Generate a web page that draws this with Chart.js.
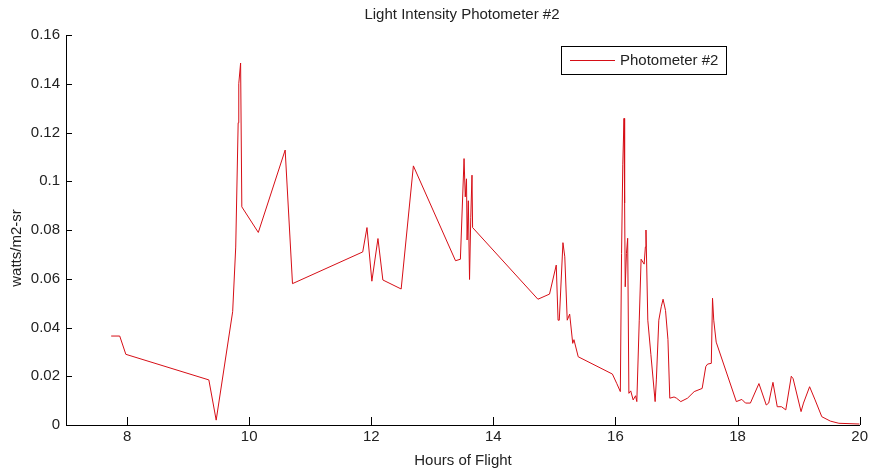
<!DOCTYPE html>
<html>
<head>
<meta charset="utf-8">
<script src="https://cdn.jsdelivr.net/npm/chart.js@4/dist/chart.umd.min.js"></script>
<style>
  body { margin: 0; background: #fff; }
  #wrap { width: 871px; height: 472px; }
</style>
</head>
<body>
<div id="wrap"><canvas id="lightCanvas"></canvas></div>
<script>
// données
const hours = [
  7.74, 7.88, 7.98, 9.34, 9.46, 9.73, 9.78, 9.82, 9.83, 9.86, 9.88, 10.15, 10.59, 10.71,
  11.86, 11.93, 12.01, 12.11, 12.19, 12.49, 12.69, 13.38, 13.46, 13.52, 13.54, 13.56, 13.57,
  13.59, 13.61, 13.63, 13.65, 13.66, 14.73, 14.92, 15.03, 15.06, 15.08, 15.14, 15.17, 15.21,
  15.25, 15.30, 15.32, 15.39, 15.95, 16.02, 16.08, 16.10, 16.12, 16.14, 16.15, 16.16, 16.18,
  16.20, 16.22, 16.25, 16.29, 16.33, 16.35, 16.39, 16.42, 16.47, 16.49, 16.50, 16.53, 16.58,
  16.65, 16.67, 16.71, 16.75, 16.78, 16.82, 16.86, 16.89, 16.96, 17.00, 17.07, 17.18, 17.29,
  17.42, 17.48, 17.51, 17.57, 17.59, 17.61, 17.65, 17.98, 18.07, 18.13, 18.21, 18.35, 18.47,
  18.51, 18.58, 18.65, 18.72, 18.79, 18.88, 18.91, 19.04, 19.08, 19.18, 19.27, 19.38, 19.52,
  19.66, 20.0
];
const intensity = [
  0.0365, 0.0365, 0.029, 0.0185, 0.002, 0.0465, 0.073, 0.124, 0.140, 0.1485, 0.0895, 0.079, 0.1128, 0.058,
  0.071, 0.081, 0.059, 0.0765, 0.0595, 0.0558, 0.1063, 0.0674, 0.068, 0.1093, 0.0936, 0.101, 0.0759,
  0.092, 0.0597, 0.085, 0.1025, 0.081, 0.0516, 0.0537, 0.0656, 0.043, 0.043, 0.0748, 0.069, 0.043,
  0.0455, 0.0335, 0.035, 0.028, 0.0209, 0.0171, 0.0137, 0.0704, 0.107, 0.1258, 0.091, 0.0567, 0.0704,
  0.0766, 0.013, 0.014, 0.0103, 0.012, 0.0096, 0.043, 0.068, 0.066, 0.073, 0.080, 0.043, 0.029,
  0.0096, 0.0185, 0.043, 0.0485, 0.0516, 0.047, 0.035, 0.011, 0.0115, 0.011, 0.0096, 0.011, 0.0137,
  0.015, 0.024, 0.025, 0.0253, 0.052, 0.043, 0.034, 0.0096, 0.0105, 0.009, 0.009, 0.017, 0.0082,
  0.009, 0.0175, 0.0075, 0.0075, 0.0062, 0.020, 0.019, 0.0055, 0.009, 0.0157, 0.0103, 0.0034, 0.0016,
  0.0007, 0.0004
];
const xTicks = [8, 10, 12, 14, 16, 18, 20];
const yTicks = [0, 0.02, 0.04, 0.06, 0.08, 0.1, 0.12, 0.14, 0.16];

const FONT = '"Liberation Sans", Arial, sans-serif';
const RED = "rgb(214, 14, 22)";

// titres, légende et graduations intérieures (style MATLAB)
const matlabDecor = {
    id: "matlabDecor",
    afterDraw(chart) {
        const ctx = chart.ctx;
        const area = chart.chartArea;
        const xs = chart.scales.x, ys = chart.scales.y;
        ctx.save();
        ctx.strokeStyle = "#000";
        ctx.lineWidth = 1;
        ctx.beginPath();
        xTicks.forEach(v => {
            const px = Math.round(xs.getPixelForValue(v)) + 0.5;
            ctx.moveTo(px, area.bottom);
            ctx.lineTo(px, area.bottom - 8);
        });
        yTicks.forEach(v => {
            const py = Math.round(ys.getPixelForValue(v)) + 0.5;
            ctx.moveTo(area.left, py);
            ctx.lineTo(area.left + 6, py);
        });
        ctx.stroke();

        ctx.fillStyle = "#222";
        ctx.textAlign = "center";
        ctx.textBaseline = "middle";
        ctx.font = "15px " + FONT;
        ctx.fillText("Light Intensity Photometer #2", 462, 15);
        ctx.fillText("Hours of Flight", 463, 461);
        ctx.save();
        ctx.translate(17, 248);
        ctx.rotate(-Math.PI / 2);
        ctx.fillText("watts/m2-sr", 0, 0);
        ctx.restore();

        // légende encadrée
        ctx.fillStyle = "#fff";
        ctx.fillRect(561, 46, 165, 28);
        ctx.strokeStyle = "#000";
        ctx.strokeRect(561.5, 46.5, 165, 28);
        ctx.strokeStyle = RED;
        ctx.beginPath();
        ctx.moveTo(570, 60.5);
        ctx.lineTo(615, 60.5);
        ctx.stroke();
        ctx.fillStyle = "#222";
        ctx.textAlign = "left";
        ctx.fillText(chart.data.datasets[0].label, 620, 61);
        ctx.restore();
    }
};

const lightCanvas = document.getElementById("lightCanvas");

const lightChart = new Chart(lightCanvas, {
    type: "line",
    data: {
        datasets: [{
            label: "Photometer #2",
            data: hours.map((h, i) => ({ x: h, y: intensity[i] })),
            borderColor: RED,
            borderWidth: 1,
            pointRadius: 0,
            tension: 0,
            fill: false
        }]
    },
    options: {
        responsive: true,
        maintainAspectRatio: false,
        animation: false,
        layout: { padding: { top: 35, right: 10, left: 0, bottom: 0 } },
        plugins: {
            legend: { display: false },
            title: { display: false },
            tooltip: { enabled: false }
        },
        scales: {
            x: {
                type: "linear",
                position: "bottom",
                min: 7,
                max: 20,
                afterBuildTicks: s => { s.ticks = xTicks.map(v => ({ value: v })); },
                afterFit: s => { s.height = 47; },
                grid: { display: false, drawTicks: false },
                border: { color: "#000", width: 1 },
                ticks: {
                    padding: 3,
                    maxRotation: 0,
                    color: "#222",
                    font: { family: FONT, size: 15 }
                }
            },
            y: {
                min: 0,
                max: 0.16,
                afterBuildTicks: s => { s.ticks = yTicks.map(v => ({ value: v })); },
                afterFit: s => { s.width = 66; },
                grid: { display: false, drawTicks: false },
                border: { color: "#000", width: 1 },
                ticks: {
                    padding: 6,
                    color: "#222",
                    font: { family: FONT, size: 15 },
                    callback: v => String(+v.toFixed(2))
                }
            }
        }
    },
    plugins: [matlabDecor]
});
</script>
</body>
</html>
